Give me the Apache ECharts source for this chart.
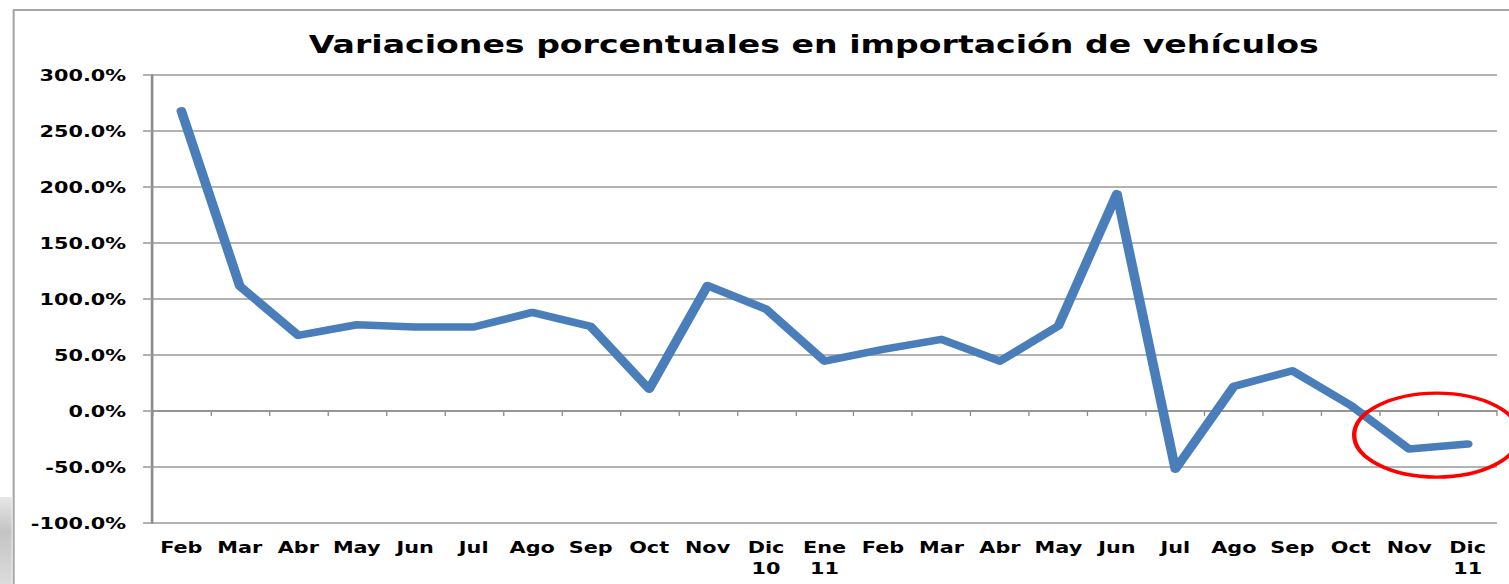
<!DOCTYPE html>
<html>
<head>
<meta charset="utf-8">
<script src="https://cdn.jsdelivr.net/npm/echarts@6/dist/echarts.min.js"></script>
<style>
html,body{margin:0;padding:0;background:#fff;overflow:hidden;width:1509px;height:584px;}
#c{position:absolute;left:0;top:0;height:584px;transform-origin:0 0;}
</style>
</head>
<body>
<div id="c"></div>
<script>
// ---- data ----
const categories = ['Feb','Mar','Abr','May','Jun','Jul','Ago','Sep','Oct','Nov','Dic\n10','Ene\n11','Feb','Mar','Abr','May','Jun','Jul','Ago','Sep','Oct','Nov','Dic\n11'];
const variation = [268, 111.5, 67.5, 77, 75, 75, 88, 75.5, 19.5, 112, 91, 44.5, 55, 64, 44.5, 76, 194, -52, 22, 36, 5, -34, -29.5];
const yTicks = {min: -100, max: 300, interval: 50};
const titleText = 'Variaciones porcentuales en importación de vehículos';

// horizontal stretch of the original picture
const SX = 1.3;
const W = 1509 / SX;
const el = document.getElementById('c');
el.style.width = W + 'px';
el.style.transform = 'scaleX(' + SX + ')';

const chart = echarts.init(el, null, {renderer: 'svg', width: W, height: 584});
const FONT = 'DejaVu Sans';

chart.setOption({
  animation: false,
  backgroundColor: '#fff',
  title: {
    text: titleText,
    left: 621,
    textAlign: 'center',
    top: 26,
    textStyle: {fontFamily: FONT, fontWeight: 'bold', fontSize: 25.5, color: '#000'}
  },
  grid: {left: 117, right: W - 1151.5, top: 75, bottom: 61, containLabel: false},
  xAxis: [
    {
      type: 'category', data: categories, boundaryGap: true, position: 'bottom',
      axisLine: {show: false, onZero: false},
      axisTick: {show: false},
      axisLabel: {interval: 0, margin: 14, fontFamily: FONT, fontWeight: 'bold', fontSize: 16, lineHeight: 21, color: '#000'},
      splitLine: {show: false}
    },
    {
      type: 'category', data: categories, boundaryGap: true, position: 'bottom',
      axisLine: {show: true, onZero: true, onZeroAxisIndex: 0, lineStyle: {color: '#8c8c8c', width: 1.5}},
      axisTick: {show: true, interval: 0, length: 5, lineStyle: {color: '#8c8c8c', width: 1}},
      axisLabel: {show: false},
      splitLine: {show: false}
    }
  ],
  yAxis: {
    type: 'value', min: yTicks.min, max: yTicks.max, interval: yTicks.interval,
    axisLine: {show: true, lineStyle: {color: '#8c8c8c', width: 2}},
    axisTick: {show: true, length: 7, lineStyle: {color: '#999', width: 1.5}},
    axisLabel: {
      margin: 20, fontFamily: FONT, fontWeight: 'bold', fontSize: 16, color: '#000',
      formatter: v => v.toFixed(1) + '%'
    },
    splitLine: {show: true, lineStyle: {color: '#999', width: 1.5}}
  },
  series: [{
    type: 'line', data: variation, xAxisIndex: 0, yAxisIndex: 0,
    symbol: 'none', smooth: false,
    lineStyle: {color: '#4a7ebb', width: 7.5, cap: 'round', join: 'round'},
    z: 5
  }]
});

// annotation ellipse around the last two points
const pNov = chart.convertToPixel({xAxisIndex: 0, yAxisIndex: 0}, [21, -21.5]);
const pDic = chart.convertToPixel({xAxisIndex: 0, yAxisIndex: 0}, [22, -21.5]);
const cx = pNov[0] + (pDic[0] - pNov[0]) * 0.47;
const cy = pNov[1];

chart.setOption({
  graphic: [
    {type: 'line', shape: {x1: 10, y1: 10, x2: W, y2: 10}, style: {stroke: '#a6a6a6', lineWidth: 2}, silent: true},
    {type: 'line', shape: {x1: 10.5, y1: 10, x2: 10.5, y2: 584}, style: {stroke: '#a6a6a6', lineWidth: 1.6}, silent: true},
    {type: 'rect', shape: {x: 0, y: 497, width: 9, height: 87},
     style: {fill: new echarts.graphic.LinearGradient(0, 0, 0, 1, [{offset: 0, color: '#e6e6e6'}, {offset: 0.4, color: '#c4c4c4'}, {offset: 1, color: '#dcdcdc'}])}, silent: true},
    {type: 'ellipse', shape: {cx: cx, cy: cy, rx: 63.5, ry: 42},
     style: {fill: 'none', stroke: '#ff0000', lineWidth: 3.4}, z: 100, silent: true}
  ]
});
</script>
</body>
</html>
